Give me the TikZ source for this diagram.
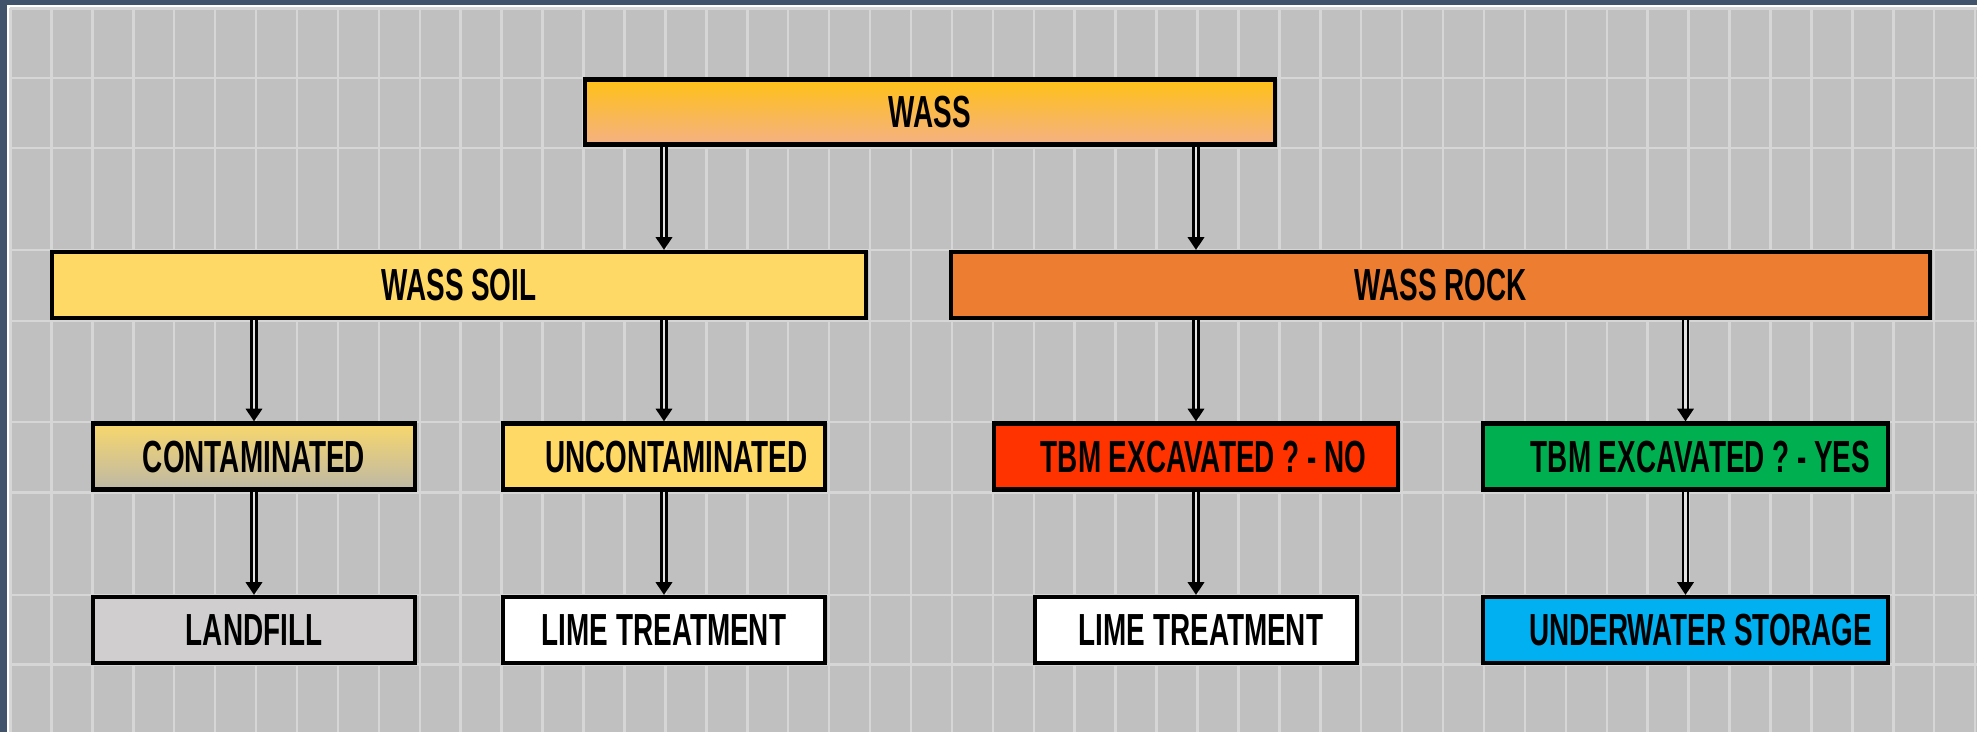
\documentclass[tikz,border=0pt]{standalone}
\usepackage{fontspec}
\setmainfont{Liberation Sans}[FakeStretch=0.62]
\usetikzlibrary{arrows.meta}
\definecolor{framecol}{HTML}{41536B}
\definecolor{cellcol}{HTML}{C0C0C0}
\definecolor{gridcol}{HTML}{D6D6D6}
\definecolor{shaftin}{HTML}{E2E2E2}
\definecolor{wasstop}{HTML}{FFC117}
\definecolor{wassbot}{HTML}{F4B183}
\definecolor{soilcol}{HTML}{FFD966}
\definecolor{rockcol}{HTML}{ED7D31}
\definecolor{conttop}{HTML}{F8D76C}
\definecolor{contbot}{HTML}{BDB8A6}
\definecolor{nocol}{HTML}{FF3300}
\definecolor{yescol}{HTML}{00B050}
\definecolor{landcol}{HTML}{D0CECE}
\definecolor{undercol}{HTML}{00B0F0}
\begin{document}
\begin{tikzpicture}[
    box/.style={draw=black, line width=1.2pt, minimum height=0.66cm, inner sep=0pt,
        font=\fontsize{12.8}{14}\selectfont\bfseries, text depth=0pt},
    dbl/.style={double=shaftin, double distance=0.65pt, line width=0.75pt,
        -{Triangle[width=4.6pt,length=3.6pt]}}
]
\useasboundingbox (0,0) rectangle (19.77,7.32);
% frame and grid
\fill[framecol] (0,0) rectangle (19.77,7.32);
\fill[white] (0.07,0) rectangle (19.77,7.27);
\fill[cellcol] (0.095,0) rectangle (19.77,7.245);
\foreach \k in {0,...,48}
    \draw[gridcol, line width=0.025cm] ({0.105+0.4093*\k},0)--({0.105+0.4093*\k},7.245);
\foreach \y in {7.235,6.54,5.84,4.82,4.11,3.10,2.395,1.37,0.675}
    \draw[gridcol, line width=0.025cm] (0.095,\y)--(19.77,\y);

% boxes
\node[box, top color=wasstop, bottom color=wassbot, minimum width=6.90cm, minimum height=0.65cm] (wass) at (9.30,6.20) {WASS};
\node[box, fill=soilcol, minimum width=8.14cm] (soil) at (4.59,4.47) {WASS SOIL};
\node[box, fill=rockcol, minimum width=9.79cm] (rock) at (14.405,4.47) {WASS ROCK};
\node[box, top color=conttop, bottom color=contbot, minimum width=3.22cm] (cont) at (2.54,2.755) {CONTAMINATED};
\node[box, fill=soilcol, minimum width=3.22cm] (uncont) at (6.64,2.755) {\hspace*{0.25cm}UNCONTAMINATED};
\node[box, fill=nocol, minimum width=4.04cm] (tbmno) at (11.96,2.755) {\hspace*{0.15cm}TBM EXCAVATED ? - NO};
\node[box, fill=yescol, minimum width=4.05cm] (tbmyes) at (16.855,2.755) {\hspace*{0.3cm}TBM EXCAVATED ? - YES};
\node[box, fill=landcol, minimum width=3.22cm] (landfill) at (2.54,1.02) {LANDFILL};
\node[box, fill=white, minimum width=3.22cm] (limea) at (6.64,1.02) {LIME TREATMENT};
\node[box, fill=white, minimum width=3.22cm] (limeb) at (11.96,1.02) {\hspace*{0.1cm}LIME TREATMENT};
\node[box, fill=undercol, minimum width=4.05cm] (under) at (16.855,1.02) {\hspace*{0.3cm}UNDERWATER STORAGE};

% arrows
\draw[dbl] (wass.south -| uncont.north)--(soil.north -| uncont.north);
\draw[dbl] (wass.south -| tbmno.north)--(rock.north -| tbmno.north);
\draw[dbl] (soil.south -| cont.north)--(cont.north);
\draw[dbl] (soil.south -| uncont.north)--(uncont.north);
\draw[dbl] (rock.south -| tbmno.north)--(tbmno.north);
\draw[dbl] (rock.south -| tbmyes.north)--(tbmyes.north);
\draw[dbl] (cont.south)--(landfill.north);
\draw[dbl] (uncont.south)--(limea.north);
\draw[dbl] (tbmno.south)--(limeb.north);
\draw[dbl] (tbmyes.south)--(under.north);

\end{tikzpicture}
\end{document}
